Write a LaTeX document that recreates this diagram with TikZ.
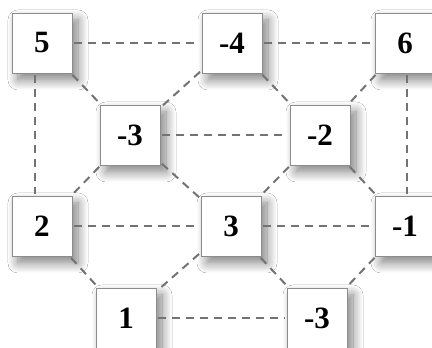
\documentclass[tikz,border=0pt]{standalone}
\usepackage{fontspec}
\setmainfont{Liberation Serif}
\usetikzlibrary{shadows.blur}
\begin{document}
\begin{tikzpicture}[x=1pt,y=1pt,
  box/.style={draw=black!45, line width=0.9pt, fill=white, minimum size=60pt, inner sep=0pt,
    font=\fontsize{31}{31}\selectfont\bfseries,
    blur shadow={shadow xshift=6pt, shadow yshift=-7pt, shadow blur radius=10pt, shadow blur steps=12, shadow opacity=50}},
  link/.style={draw=black!55, line width=2pt, dash pattern=on 8pt off 6pt, shorten <=2pt, shorten >=2pt}]
\useasboundingbox (0,0) rectangle (432,348);
\fill[white] (0,0) rectangle (432,348);
\node[box] (a) at (42,305) {5};
\node[box] (b) at (232,305) {-4};
\node[box] (c) at (405,305) {6};
\node[box] (d) at (130,213) {-3};
\node[box] (e) at (320,213) {-2};
\node[box] (f) at (42,122) {2};
\node[box] (g) at (231,122) {3};
\node[box] (h) at (405,122) {-1};
\node[box] (i) at (126,30) {1};
\node[box] (j) at (317,30) {-3};
\draw[link] (a) -- (b);
\draw[link] (b) -- (c);
\draw[link] ([xshift=-7pt]a.south) -- ([xshift=-7pt]f.north);
\draw[link] ([xshift=2pt]c.south) -- ([xshift=2pt]h.north);
\draw[link] (a) -- (d);
\draw[link] (b) -- (d);
\draw[link] (b) -- (e);
\draw[link] (c) -- (e);
\draw[link] (d) -- (e);
\draw[link] (d) -- (f);
\draw[link] (d) -- (g);
\draw[link] (e) -- (g);
\draw[link] (e) -- (h);
\draw[link] (f) -- (g);
\draw[link] (g) -- (h);
\draw[link] (f) -- (i);
\draw[link] (g) -- (i);
\draw[link] (g) -- (j);
\draw[link] (h) -- (j);
\draw[link] (i) -- (j);
\end{tikzpicture}
\end{document}
